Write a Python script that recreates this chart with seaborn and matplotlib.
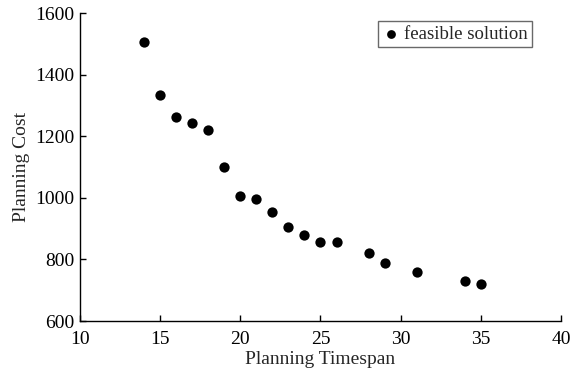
import matplotlib
matplotlib.use("Agg")
import matplotlib.pyplot as plt
import seaborn as sns
import pandas as pd

# feasible solutions
timespan = [14, 15, 16, 17, 18, 19, 20, 21, 22, 23, 24, 25, 26, 28, 29, 31, 34, 35]
cost = [1507, 1335, 1263, 1242, 1220, 1100, 1005, 997, 955, 905, 880, 857, 857, 820, 787, 760, 731, 720]
x_ticks = [10, 15, 20, 25, 30, 35, 40]
y_ticks = [600, 800, 1000, 1200, 1400, 1600]

sns.set_style("ticks")
plt.rcParams['font.family'] = ['Liberation Serif', 'DejaVu Serif']
plt.rcParams['xtick.direction'] = 'in'
plt.rcParams['ytick.direction'] = 'in'

df = pd.DataFrame({"Planning Timespan": timespan, "Planning Cost": cost})

fig = plt.figure(figsize=(5.73, 3.77), dpi=100)
ax = fig.add_axes([0.1396, 0.1485, 0.8394, 0.817])
sns.scatterplot(data=df, x="Planning Timespan", y="Planning Cost", ax=ax,
                color="black", s=55, edgecolor="black", linewidth=0,
                label="feasible solution")

ax.set_xlim(10, 40)
ax.set_ylim(600, 1600)
ax.set_xticks(x_ticks)
ax.set_yticks(y_ticks)
ax.tick_params(labelsize=14, length=4, width=1, colors="black")
ax.tick_params(axis="x", pad=7)
ax.tick_params(axis="y", pad=4)
ax.set_xlabel("Planning Timespan", fontsize=14, labelpad=2)
ax.set_ylabel("Planning Cost", fontsize=14, labelpad=4)
sns.despine(ax=ax)
for sp in ["left", "bottom"]:
    ax.spines[sp].set_linewidth(1)
    ax.spines[sp].set_color("black")

leg = ax.legend(loc="upper right", bbox_to_anchor=(0.94, 0.975), fancybox=False,
                frameon=True, edgecolor="#444444", fontsize=13.5, handletextpad=0.2,
                borderpad=0.25, handlelength=0.9, borderaxespad=0, markerscale=0.85)
leg.get_frame().set_linewidth(1)

fig.savefig("out.png", dpi=100)
